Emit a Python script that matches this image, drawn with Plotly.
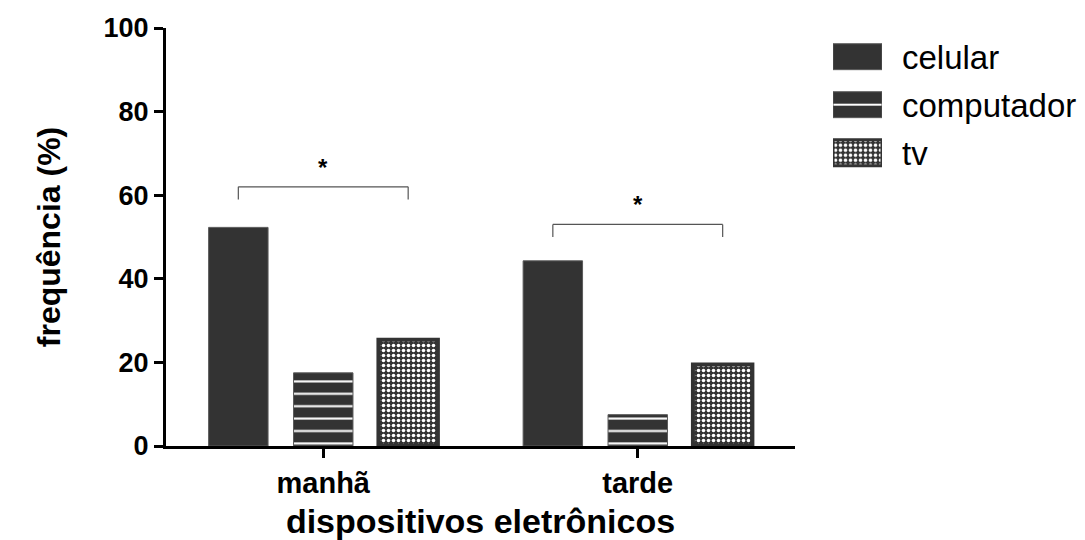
import plotly.graph_objects as go

# Periods on the x axis and the devices compared in each period
periods = ["manhã", "tarde"]
devices = ["celular", "computador", "tv"]

# Frequency (%) of use per device, one value per period
celular = [52.3, 44.3]
computador = [17.5, 7.5]
tv = [25.4, 19.5]

# Significance brackets: (period index, bracket height, tick drop, label)
brackets = [(0, 62.0, 3.0, "*"), (1, 53.0, 3.0, "*")]

DARK = "#333333"
FONT = "Liberation Sans, Arial, sans-serif"
BARGAP = 0.19
BARGROUPGAP = 0.3

lines_pattern = dict(shape="-", fillmode="overlay", fgcolor="white", fgopacity=1,
                     bgcolor=DARK, size=12.4, solidity=0.17)
checker_pattern = dict(shape=".", fillmode="overlay", fgcolor="white", fgopacity=1,
                       bgcolor=DARK, size=5, solidity=0.4)

styles = {
    "celular": dict(color=DARK, line=dict(color="#5a5a5a", width=1)),
    "computador": dict(color=DARK, line=dict(color="#5a5a5a", width=1),
                       pattern=lines_pattern),
    "tv": dict(color=DARK, line=dict(color=DARK, width=4),
               pattern=checker_pattern),
}

values = {"celular": celular, "computador": computador, "tv": tv}

fig = go.Figure()

for name in devices:
    fig.add_trace(go.Bar(
        x=periods, y=values[name], name=name,
        marker=styles[name], showlegend=False,
        xaxis="x", yaxis="y",
    ))

# Hand-made legend: one swatch per device on a small side axis
legend_styles = {
    "celular": styles["celular"],
    "computador": dict(
        color=DARK, line=dict(color="#5a5a5a", width=1),
        pattern=dict(shape="-", fillmode="overlay", fgcolor="white", fgopacity=1,
                     bgcolor=DARK, size=48, solidity=2 / 48),
    ),
    "tv": dict(color=DARK, line=dict(color=DARK, width=3),
               pattern=checker_pattern),
}
for name in devices:
    fig.add_trace(go.Bar(
        x=[1], y=[name], orientation="h", width=0.54, offset=-0.27,
        marker=legend_styles[name], showlegend=False, hoverinfo="skip",
        xaxis="x2", yaxis="y2",
    ))
    fig.add_annotation(
        x=1, y=name, xref="x2", yref="y2", text=name, showarrow=False,
        xanchor="left", xshift=18, yshift=-1,
        font=dict(family=FONT, size=33, color="black"),
    )

# Bracket + asterisk linking celular and tv bars in each period
slot = (1 - BARGAP) / len(devices)
for idx, top, drop, label in brackets:
    x0 = idx - slot
    x1 = idx + slot
    line = dict(color="#555555", width=1.2)
    fig.add_shape(type="line", xref="x", yref="y", x0=x0, x1=x1, y0=top, y1=top, line=line)
    fig.add_shape(type="line", xref="x", yref="y", x0=x0, x1=x0, y0=top, y1=top - drop, line=line)
    fig.add_shape(type="line", xref="x", yref="y", x0=x1, x1=x1, y0=top, y1=top - drop, line=line)
    fig.add_annotation(
        x=idx, y=top, xref="x", yref="y", text="<b>" + label + "</b>",
        showarrow=False, yanchor="bottom", yshift=4,
        font=dict(family=FONT, size=24, color="black"),
    )

fig.update_layout(
    width=1085, height=540,
    margin=dict(l=166, r=0, t=28, b=94),
    paper_bgcolor="white", plot_bgcolor="white",
    barmode="group", bargap=BARGAP, bargroupgap=BARGROUPGAP,
    showlegend=False,
    font=dict(family=FONT, color="black"),
    xaxis=dict(
        domain=[0, 629 / 919], type="category", range=[-0.5, 1.5],
        showline=True, linecolor="black", linewidth=3,
        ticks="outside", ticklen=9, tickwidth=3, tickcolor="black",
        tickfont=dict(family=FONT, size=29, color="black", weight="bold"),
        showgrid=False, zeroline=False,
        title=dict(text="<b>dispositivos eletrônicos</b>", standoff=12,
                   font=dict(family=FONT, size=34, color="black")),
    ),
    yaxis=dict(
        range=[0, 100], tickvals=[0, 20, 40, 60, 80, 100],
        showline=True, linecolor="black", linewidth=3,
        ticks="outside", ticklen=9, tickwidth=3, tickcolor="black",
        tickfont=dict(family=FONT, size=27, color="black", weight="bold"),
        showgrid=False, zeroline=False,
        title=dict(text="<b>frequência (%)</b>", standoff=34,
                   font=dict(family=FONT, size=32, color="black")),
    ),
    xaxis2=dict(
        domain=[(833 - 166) / 919, (882 - 166) / 919], range=[0, 1],
        anchor="y2", visible=False, fixedrange=True,
    ),
    yaxis2=dict(
        domain=[(446 - 176.7) / 418, (446 - 32.7) / 418],
        type="category", categoryorder="array", categoryarray=devices,
        range=[2.5, -0.5], anchor="x2", visible=False, fixedrange=True,
    ),
)

fig.write_html("out.html")
